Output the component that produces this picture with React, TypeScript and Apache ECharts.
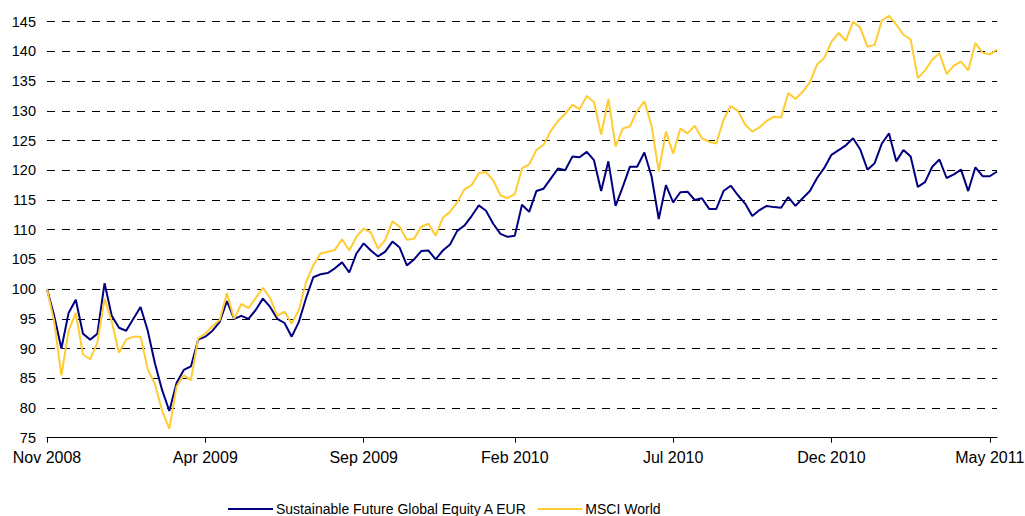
import React, { useEffect, useRef } from "react";
import * as echarts from "echarts";

// Weekly index values, Nov 2008 = 100
const fund: number[] = [
  100, 95.5, 90, 96, 98.2, 92.5, 91.5, 92.5, 101, 95.5,
  93.5, 93, 95, 97, 93, 87.5, 83, 79.5, 84.2, 86.4,
  87, 91.5, 92, 93, 94.5, 98, 95, 95.5, 95, 96.5,
  98.4, 97, 95, 94.3, 92, 94.5, 98.5, 102, 102.5, 102.7,
  103.5, 104.5, 102.8, 106, 107.7, 106.5, 105.5, 106.3, 108, 107,
  104, 105, 106.4, 106.5, 105, 106.5, 107.5, 109.8, 110.7, 112.3,
  114.1, 113.2, 111, 109.3, 108.8, 109, 114.2, 113, 116.5, 116.9,
  118.6, 120.3, 120, 122.3, 122.2, 123.1, 121.7, 116.5, 121.5, 114,
  117.2, 120.6, 120.6, 123, 119, 111.8, 117.5, 114.6, 116.3, 116.4,
  115, 115.3, 113.5, 113.5, 116.5, 117.4, 115.8, 114.4, 112.3, 113.3,
  114, 113.8, 113.7, 115.5, 114, 115.3, 116.5, 118.7, 120.4, 122.6,
  123.4, 124.2, 125.4, 123.5, 120.1, 121.2, 124.5, 126.2, 121.5, 123.4,
  122.3, 117.2, 118, 120.6, 121.8, 118.7, 119.3, 120.1, 116.5, 120.5,
  119, 119, 119.8,
];

const msci: number[] = [
  100, 94.5, 85.5, 93, 96, 89, 88.2, 91, 98.4, 94.5,
  89.3, 91.5, 92, 92, 86.5, 84, 79.5, 76.5, 83.6, 85.5,
  84.7, 91.7, 92.5, 93.8, 94.8, 99.3, 95, 97.5, 96.8, 98.5,
  100.2, 98.5, 95.5, 96.2, 94.2, 96.5, 101.2, 104, 106, 106.3,
  106.6, 108.4, 106.5, 108.8, 110.2, 109.5, 106.8, 108.3, 111.4, 110.5,
  108.3, 108.5, 110.5, 111, 109, 112, 113, 114.6, 116.8, 117.5,
  119.5, 119.7, 118.3, 115.8, 115.3, 116, 120.3, 121, 123.4, 124.3,
  126.6, 128.3, 129.5, 131, 130.3, 132.5, 131.5, 126, 132, 124,
  127, 127.4, 130, 131.6, 127.5, 119.8, 126.5, 122.8, 127, 126.2,
  127.5, 125.4, 124.8, 124.5, 128.5, 130.8, 130, 127.7, 126.5, 127.2,
  128.3, 129, 128.9, 133, 132, 133.2, 134.8, 137.8, 138.9, 141.6,
  143.1, 141.8, 145, 144, 140.8, 141.1, 145.2, 146, 144.5, 142.8,
  142, 135.5, 136.8, 138.6, 139.7, 136.2, 137.6, 138.3, 136.8, 141.4,
  139.8, 139.5, 140.3,
];

const tickLabels: string[] = ["Nov 2008", "Apr 2009", "Sep 2009", "Feb 2010", "Jul 2010", "Dec 2010", "May 2011"];
const tickWeeks: number[] = [0, 22, 44, 65, 87, 109, 131];

const seriesNames: string[] = ["Sustainable Future Global Equity A EUR", "MSCI World"];

const font = "'Liberation Sans', Arial, sans-serif";

export default function App() {
  const ref = useRef<HTMLDivElement>(null);

  useEffect(() => {
    if (!ref.current) return;
    const chart = echarts.init(ref.current, undefined, { renderer: "svg" });
    const weeks = fund.map((_, i) => String(i));
    const showTick = (index: number) => tickWeeks.includes(index);
    chart.setOption({
      animation: false,
      backgroundColor: "#ffffff",
      textStyle: { fontFamily: font },
      grid: { left: 47, right: 28, top: 21.7, bottom: 78.3, containLabel: false, outerBoundsMode: "none" },
      legend: {
        left: 228,
        top: 502,
        padding: 0,
        itemWidth: 45,
        itemHeight: 2,
        itemGap: 10,
        icon: "rect",
        textStyle: { fontSize: 14, color: "#000", fontFamily: font, padding: [0, 0, 0, -2] },
        data: seriesNames,
      },
      xAxis: {
        type: "category",
        data: weeks,
        boundaryGap: false,
        axisLine: { show: true, lineStyle: { color: "#000", width: 1 } },
        axisTick: { show: true, length: 5, interval: (index: number) => showTick(index), lineStyle: { color: "#000" } },
        axisLabel: {
          interval: (index: number) => showTick(index),
          formatter: (_v: string, index: number) => {
            const k = tickWeeks.indexOf(index);
            return k >= 0 ? tickLabels[k] : "";
          },
          fontSize: 16,
          color: "#000",
          margin: 12,
          fontFamily: font,
        },
        splitLine: { show: false },
      },
      yAxis: {
        type: "value",
        min: 75,
        max: 145,
        interval: 5,
        axisLine: { show: false },
        axisTick: { show: false },
        axisLabel: { fontSize: 14.5, color: "#000", margin: 11, fontFamily: font },
        splitLine: { show: true, lineStyle: { color: "#000", width: 1, type: [8, 7] } },
      },
      series: [
        {
          name: seriesNames[0],
          type: "line",
          data: fund,
          showSymbol: false,
          symbol: "none",
          clip: false,
          color: "#000080",
          lineStyle: { color: "#000080", width: 2 },
        },
        {
          name: seriesNames[1],
          type: "line",
          data: msci,
          showSymbol: false,
          symbol: "none",
          clip: false,
          color: "#FFCC33",
          lineStyle: { color: "#FFCC33", width: 2 },
        },
      ],
    });
    return () => chart.dispose();
  }, []);

  return (
    <div
      ref={ref}
      style={{ position: "fixed", left: 0, top: 0, width: 1025, height: 516, background: "#fff" }}
    />
  );
}
